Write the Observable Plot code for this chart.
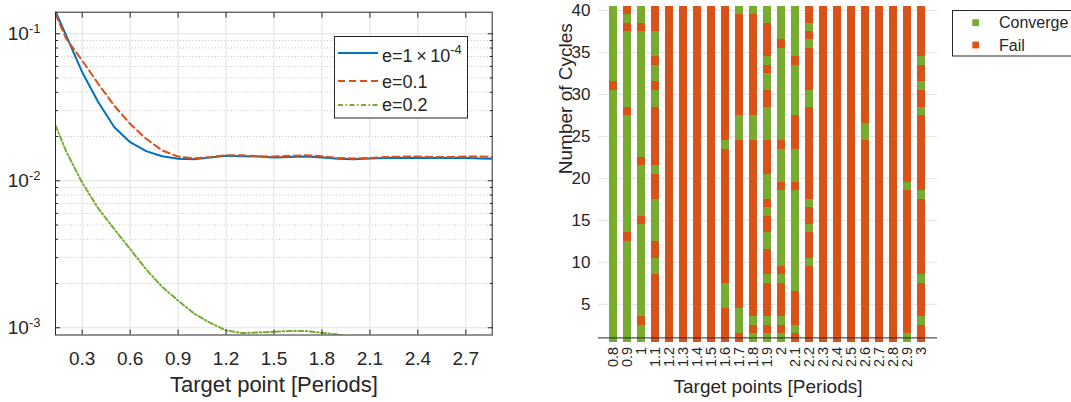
<!DOCTYPE html>
<html>
<head>
<meta charset="utf-8">
<script src="https://cdn.jsdelivr.net/npm/d3@7"></script>
<script src="https://cdn.jsdelivr.net/npm/@observablehq/plot@0.6"></script>
<style>
  html, body { margin: 0; padding: 0; background: #fff; }
  #wrap { position: relative; width: 1071px; height: 402px; overflow: hidden;
          font-family: "Liberation Sans", Arial, Helvetica, sans-serif; color: #262626; }
  #left, #right, .legend { position: absolute; }
  #left { left: 0; top: 0; }
  #right { left: 510px; top: 0; }
</style>
</head>
<body>
<div id="wrap">
  <div id="left"></div>
  <div id="right"></div>
  <svg class="legend" id="legL" style="left:334px;top:36px" width="134" height="83"></svg>
  <svg class="legend" id="legR" style="left:952px;top:10px" width="130" height="47"></svg>
</div>
<script>
// ---------- Left panel data ----------
const targetPoint = [0.133, 0.2, 0.3, 0.4, 0.5, 0.6, 0.7, 0.8, 0.9, 1.0, 1.1, 1.2, 1.3, 1.4, 1.5,
                     1.6, 1.7, 1.8, 1.9, 2.0, 2.1, 2.2, 2.3, 2.4, 2.5, 2.6, 2.7, 2.8, 2.865];
const errE1em4 = [0.142, 0.097, 0.0548, 0.0343, 0.0232, 0.0183, 0.0159, 0.0147, 0.0141, 0.0140,
                  0.0144, 0.0148, 0.0147, 0.0146, 0.0144, 0.0145, 0.0146, 0.0144, 0.0141, 0.0140,
                  0.0142, 0.0143, 0.0143, 0.0143, 0.0143, 0.0143, 0.0143, 0.0142, 0.0141];
const errE01   = [0.136, 0.0925, 0.0658, 0.0457, 0.0325, 0.0244, 0.0193, 0.0161, 0.0146, 0.0142,
                  0.0145, 0.0149, 0.0149, 0.0147, 0.0146, 0.0148, 0.0149, 0.0147, 0.0143, 0.0142,
                  0.0143, 0.0145, 0.0146, 0.0146, 0.0145, 0.0145, 0.0146, 0.0146, 0.0145];
const errE02   = [0.0238, 0.0158, 0.0097, 0.0065, 0.0047, 0.00343, 0.0025, 0.0019, 0.00153, 0.00125,
                  0.00108, 0.00096, 0.00092, 0.00093, 0.00094, 0.00095, 0.00095, 0.000925, 0.000898, 0.00087,
                  0.00085, null, null, null, null, null, null, null, null];
const seriesNames  = ["e=1\u00d710^-4", "e=0.1", "e=0.2"];
const seriesValues = [errE1em4, errE01, errE02];
const seriesColors = ["#0072BD", "#D95319", "#77AC30"];
const seriesDash   = [null, "7,4", "5,2.5,1.5,2.5"];
const xTicksLeft   = [0.3, 0.6, 0.9, 1.2, 1.5, 1.8, 2.1, 2.4, 2.7];
const yMajor       = [0.001, 0.01, 0.1];
const yMinor       = [0.002, 0.003, 0.004, 0.005, 0.006, 0.007, 0.008, 0.009,
                      0.02, 0.03, 0.04, 0.05, 0.06, 0.07, 0.08, 0.09];
const xDomainLeft  = [0.133, 2.865];
const yDomainLeft  = [0.000893, 0.1402];

// ---------- Right panel data ----------
const targets = ["0.8","0.9","1","1.1","1.2","1.3","1.4","1.5","1.6","1.7","1.8","1.9",
                 "2","2.1","2.2","2.3","2.4","2.5","2.6","2.7","2.8","2.9","3"];
const nCycles = 40;
// cycles (inclusive ranges) that converge for each target point
const convergeRanges = [
  [[1,30],[32,40]],
  [[1,12],[14,27],[29,37],[39,39]],
  [[1,2],[4,14],[16,21],[23,37],[39,40]],
  [[9,10],[13,17],[21,21],[29,30],[32,33],[35,37]],
  [], [], [], [],
  [[5,7],[24,24]],
  [[2,4],[25,27],[40,40]],
  [[1,1],[3,3],[25,27],[40,40]],
  [[1,1],[3,3],[8,8],[12,13],[16,16],[18,20],[25,28],[31,32],[34,34],[39,40]],
  [[1,1],[3,3],[8,8],[10,18],[20,23],[25,35],[37,40]],
  [[2,2],[7,18],[20,23],[28,33],[35,40]],
  [[10,10],[14,14],[17,17],[29,30],[36,36],[38,38]],
  [], [], [],
  [[25,26]],
  [], [],
  [[1,1],[19,19]],
  [[3,3],[8,8],[18,18],[28,28],[31,31],[34,34]]
];
const cycleTicks   = [5, 10, 15, 20, 25, 30, 35, 40];
const cycleDomain  = [1, 40];
const statusNames  = ["Converge", "Fail"];
const statusColors = ["#77AC30", "#D95319"];

const FONT = '"Liberation Sans", Arial, Helvetica, sans-serif';
const INK = "#262626";

// ---------- Left plot ----------
const lineMarks = seriesNames.map((name, s) => {
  const rows = targetPoint.map((x, i) => ({x, y: seriesValues[s][i]})).filter(d => d.y != null);
  return Plot.line(rows, {x: "x", y: "y", stroke: seriesColors[s], strokeWidth: 2,
    strokeDasharray: seriesDash[s] || undefined, clip: true});
});

const left = Plot.plot({
  width: 510, height: 402,
  marginLeft: 55, marginRight: 18.3, marginTop: 11.7, marginBottom: 67.5,
  style: {fontFamily: FONT, color: INK, background: "transparent", overflow: "visible"},
  x: {domain: xDomainLeft},
  y: {type: "log", domain: yDomainLeft},
  marks: [
    Plot.ruleY(yMinor, {stroke: "#c4c4c4", strokeDasharray: "1,2.2"}),
    Plot.ruleX(xTicksLeft, {stroke: "#e1e1e1"}),
    Plot.ruleY(yMajor, {stroke: "#e1e1e1"}),
    ...lineMarks,
    Plot.frame({stroke: INK}),
    Plot.axisX({ticks: xTicksLeft, anchor: "bottom", tickSize: -5, tickPadding: 21,
      tickFormat: d => d.toFixed(1), label: null, fontSize: 19, stroke: INK, fill: INK}),
    Plot.axisX({ticks: xTicksLeft, anchor: "top", tickSize: -5, tickFormat: () => "", label: null, stroke: INK}),
    Plot.axisY({ticks: yMajor, anchor: "left", tickSize: -5, tickPadding: 20,
      tickFormat: d => "10^" + Math.round(Math.log10(d)), label: null, fontSize: 19, stroke: INK, fill: INK}),
    Plot.axisY({ticks: yMinor, anchor: "left", tickSize: -3, tickFormat: () => "", label: null, stroke: INK}),
    Plot.axisY({ticks: yMajor, anchor: "right", tickSize: -5, tickFormat: () => "", label: null, stroke: INK}),
    Plot.axisY({ticks: yMinor, anchor: "right", tickSize: -3, tickFormat: () => "", label: null, stroke: INK}),
    Plot.text(["Target point [Periods]"], {frameAnchor: "bottom", dy: 57, fontSize: 22, fill: INK})
  ]
});
document.getElementById("left").appendChild(left);

// superscript exponents on log tick labels
left.querySelectorAll('[aria-label="y-axis tick label"] text').forEach(t => {
  const s = t.textContent;
  if (s.startsWith("10^")) {
    const exp = s.slice(3);
    t.textContent = "10";
    const ts = document.createElementNS("http://www.w3.org/2000/svg", "tspan");
    ts.setAttribute("dy", "-0.5em");
    ts.setAttribute("font-size", "13");
    ts.textContent = exp;
    t.appendChild(ts);
  }
});

// ---------- Right plot ----------
const segments = [];
targets.forEach((t, i) => {
  let cur = 1;
  convergeRanges[i].forEach(([a, b]) => {
    if (a > cur) segments.push({target: t, from: cur, to: a - 1, status: statusNames[1]});
    segments.push({target: t, from: a, to: b, status: statusNames[0]});
    cur = b + 1;
  });
  if (cur <= nCycles) segments.push({target: t, from: cur, to: nCycles, status: statusNames[1]});
});

const right = Plot.plot({
  width: 561, height: 402,
  marginLeft: 88, marginRight: 134, marginTop: 10, marginBottom: 64.6,
  style: {fontFamily: FONT, color: INK, background: "transparent", overflow: "visible"},
  x: {type: "band", domain: targets, paddingInner: 0.4, paddingOuter: 0.2},
  y: {domain: cycleDomain},
  color: {domain: statusNames, range: statusColors},
  marks: [
    Plot.ruleY(cycleTicks, {stroke: "#e3e3e3"}),
    Plot.barY(segments, {x: "target", y1: d => d.from - 0.5, y2: d => d.to + 0.5, fill: "status",
      shapeRendering: "crispEdges"}),
    Plot.ruleY([cycleDomain[0]], {stroke: INK}),
    Plot.axisY({ticks: cycleTicks, tickSize: 0, tickPadding: 8, label: null, fontSize: 17, fill: INK}),
    Plot.axisX({tickSize: 0, tickPadding: 9, tickRotate: -90, label: null, fontSize: 14.5, fill: INK}),
    Plot.text(["Number of Cycles"], {frameAnchor: "left", dx: -33, rotate: -90, fontSize: 19, fill: INK}),
    Plot.text(["Target points [Periods]"], {frameAnchor: "bottom", dy: 55, fontSize: 19, fill: INK})
  ]
});
document.getElementById("right").appendChild(right);

// ---------- Legends ----------
const NS = "http://www.w3.org/2000/svg";
function el(parent, tag, attrs, text) {
  const e = document.createElementNS(NS, tag);
  for (const k in attrs) e.setAttribute(k, attrs[k]);
  if (text != null) e.textContent = text;
  parent.appendChild(e);
  return e;
}
const legL = document.getElementById("legL");
el(legL, "rect", {x: 0.5, y: 0.5, width: 133, height: 81.5, fill: "#fff", stroke: INK, "stroke-width": 1});
const rowY = [17, 45, 69];
const baseY = [25.7, 52, 75.4];
seriesNames.forEach((name, s) => {
  const ln = el(legL, "line", {x1: 4, x2: 44, y1: rowY[s], y2: rowY[s], stroke: seriesColors[s], "stroke-width": 2});
  if (seriesDash[s]) ln.setAttribute("stroke-dasharray", seriesDash[s]);
  const t = el(legL, "text", {x: 48, y: baseY[s], "font-size": 18, fill: INK, "font-family": FONT});
  if (name.includes("^")) {
    const [base, exp] = name.split("^");
    el(t, "tspan", {}, base.replace("\u00d7", "\u2009\u00d7\u2009"));
    el(t, "tspan", {dy: -8, "font-size": 13}, exp);
  } else {
    t.textContent = name;
  }
});

const legR = document.getElementById("legR");
el(legR, "rect", {x: 0.5, y: 0.5, width: 140, height: 45.5, fill: "#fff", stroke: INK, "stroke-width": 1});
statusNames.forEach((name, s) => {
  const cy = [12.7, 35][s];
  el(legR, "rect", {x: 20.3, y: cy - 3.4, width: 6.8, height: 6.8, fill: statusColors[s]});
  el(legR, "text", {x: 47, y: cy + 5.6, "font-size": 16, fill: INK, "font-family": FONT}, name);
});
</script>
</body>
</html>
